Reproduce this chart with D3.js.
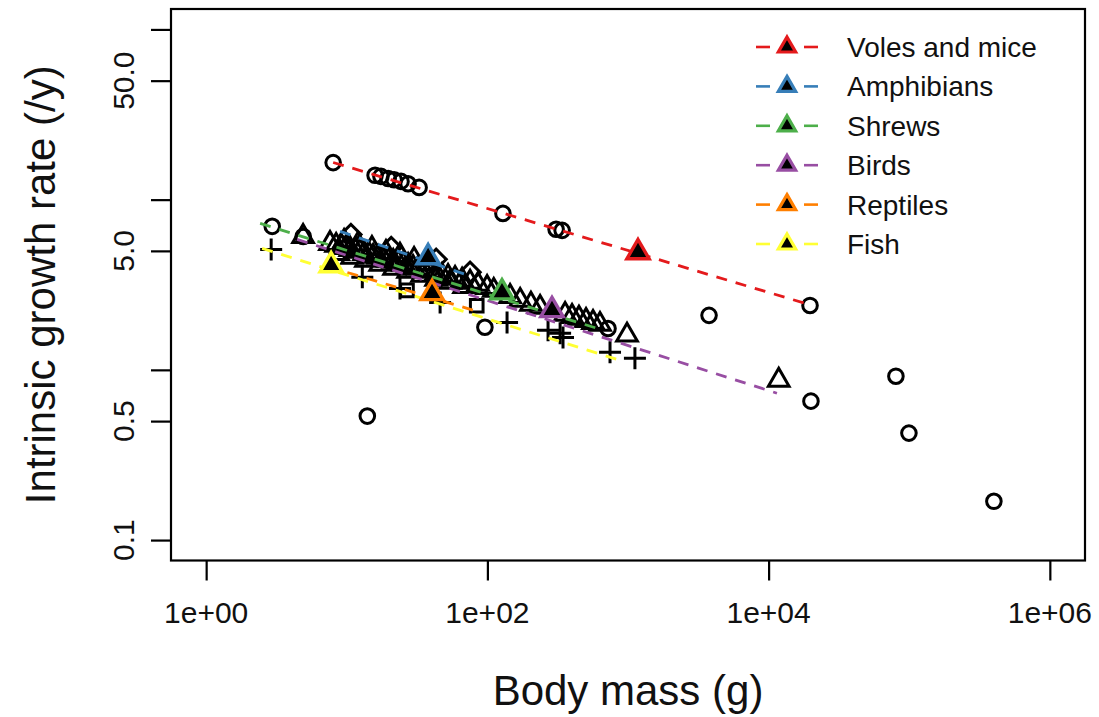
<!DOCTYPE html>
<html>
<head>
<meta charset="utf-8">
<script src="https://cdn.jsdelivr.net/npm/d3@7"></script>
<style>
  html, body { margin: 0; padding: 0; background: #fff; }
  svg { display: block; font-family: "Liberation Sans", Arial, Helvetica, sans-serif; }
</style>
</head>
<body>
<svg id="chart" width="1099" height="717"></svg>
<script>
// Open circles (body mass in g, intrinsic growth rate per year)
const circleMass = [8.0, 15.9, 17.5, 19.7, 21.7, 24.3, 27.3, 32.7, 129, 308, 340, 2.95, 4.9, 96, 14.0, 3770, 19700, 80400, 20000, 99500, 400000, 721];
const circleRate = [16.5, 13.9, 13.7, 13.3, 13.1, 12.8, 12.4, 11.8, 8.3, 6.7, 6.6, 6.97, 6.08, 1.78, 0.535, 2.09, 2.39, 0.918, 0.655, 0.425, 0.169, 1.75];

// Open triangles
const triangleMass = [
  7.6, 8.4, 9.1, 9.9, 10.6, 11.5, 12.4, 13.3, 14.4, 15.4, 16.7, 18.1, 19.7, 21.4, 23.2, 25.2, 27.3, 29.6, 32.2, 35.5, 39.1, 43.2, 47.6, 52.5, 58.9, 66.1, 75.3, 85.8, 99.5,
  8.68, 10.9, 13.7, 17.3, 21.7, 27.3, 34.3, 43.2, 54.3, 68.3,
  9.57, 12.0, 15.1, 19.0, 23.9, 30.1, 37.9,
  4.89, 171, 204, 237, 357, 400, 448, 503, 564, 632, 984, 11800, 111, 145
];
const triangleRate = [
  5.53, 5.39, 5.31, 5.24, 5.10, 5.03, 4.97, 4.83, 4.77, 4.64, 4.58, 4.52, 4.40, 4.34, 4.28, 4.17, 4.11, 4.00, 3.95, 3.84, 3.79, 3.69, 3.59, 3.54, 3.45, 3.36, 3.27, 3.18, 3.05,
  4.83, 4.58, 4.40, 4.17, 3.95, 3.79, 3.59, 3.40, 3.27, 3.09,
  5.68, 5.46, 5.17, 4.90, 4.71, 4.46, 4.22,
  6.08, 2.56, 2.43, 2.33, 2.12, 2.06, 2.01, 1.95, 1.90, 1.85, 1.60, 0.869, 2.93, 2.70
];

// Open diamonds
const diamondMass = [10.7, 20.7, 43.2, 75.3];
const diamondRate = [6.25, 5.24, 4.46, 3.74];

// Plus signs
const plusMass = [2.9, 12.9, 23.9, 46.1, 138, 270, 345, 329, 745, 1120];
const plusRate = [5.10, 3.50, 3.01, 2.49, 1.90, 1.71, 1.55, 1.64, 1.27, 1.17];

// Open squares
const squareMass = [26.8, 84];
const squareRate = [2.93, 2.38];

// Taxonomic groups: allometric fit r = a * M^b over the group's mass range,
// plus the group's central point
const groupNames = ["Voles and mice", "Amphibians", "Shrews", "Birds", "Reptiles", "Fish"];
const groupColors = ["#E41A1C", "#377EB8", "#4DAF4A", "#984EA3", "#FF7F00", "#FFFF33"];
const fitA = [27.6, 12.13, 9.10, 8.66, 6.62, 6.55];
const fitB = [-0.2465, -0.2838, -0.2572, -0.2648, -0.2477, -0.2583];
const fitMassMin = [8.0, 8.96, 2.42, 4.43, 10.1, 2.5];
const fitMassMax = [20300, 72.9, 602, 11460, 84.4, 877];
const centreMass = [1178, 37.9, 127, 288, 40.4, 7.74];
const centreRate = [4.9, 4.58, 2.85, 2.24, 2.82, 4.11];

// Axis ticks
const xTicks = [1, 1e2, 1e4, 1e6];
const xTickLabels = ["1e+00", "1e+02", "1e+04", "1e+06"];
const yTicks = [0.1, 0.5, 1, 5, 10, 50, 100];
const yTickLabels = ["0.1", "0.5", "", "5.0", "", "50.0", ""];

// ---- layout ----
const svg = d3.select("#chart");
const plot = { left: 171, right: 1085, top: 9, bottom: 560.5 };
const xPad = 0.25, yPad = 0.12; // decades of padding around the axis limits

const x = d3.scaleLog()
  .domain([Math.pow(10, 0 - xPad), Math.pow(10, 6 + xPad)])
  .range([plot.left, plot.right]);
const y = d3.scaleLog()
  .domain([Math.pow(10, -1 - yPad), Math.pow(10, 2 + yPad)])
  .range([plot.bottom, plot.top]);

svg.append("rect").attr("width", 1099).attr("height", 717).attr("fill", "#fff");

// axes
const xAxis = svg.append("g")
  .attr("transform", `translate(0,${plot.bottom})`)
  .call(d3.axisBottom(x).tickValues(xTicks).tickFormat("").tickSize(20).tickSizeOuter(0));
const yAxis = svg.append("g")
  .attr("transform", `translate(${plot.left},0)`)
  .call(d3.axisLeft(y).tickValues(yTicks).tickFormat("").tickSize(20).tickSizeOuter(0));
[xAxis, yAxis].forEach(g => {
  g.select(".domain").remove();
  g.selectAll(".tick line").attr("stroke", "#000").attr("stroke-width", 2.2);
});

svg.append("g").selectAll("text").data(xTicks).join("text")
  .attr("x", d => x(d)).attr("y", 623)
  .attr("text-anchor", "middle").attr("font-size", 30).attr("fill", "#111")
  .text((d, i) => xTickLabels[i]);

svg.append("g").selectAll("text").data(yTicks).join("text")
  .attr("transform", d => `translate(134,${y(d)}) rotate(-90)`)
  .attr("text-anchor", "middle").attr("font-size", 30).attr("fill", "#111")
  .text((d, i) => yTickLabels[i]);

// axis titles
svg.append("text")
  .attr("x", (plot.left + plot.right) / 2).attr("y", 705)
  .attr("text-anchor", "middle").attr("font-size", 42).attr("fill", "#111")
  .text("Body mass (g)");
svg.append("text")
  .attr("transform", `translate(55,${(plot.top + plot.bottom) / 2}) rotate(-90)`)
  .attr("text-anchor", "middle").attr("font-size", 42).attr("fill", "#111")
  .text("Intrinsic growth rate (/y)");

// ---- points ----
const pts = svg.append("g").attr("fill", "none").attr("stroke", "#000").attr("stroke-width", 3);
const circlePath = d3.symbol().type(d3.symbolCircle).size(Math.PI * 7.3 * 7.3)();
const trianglePath = d3.symbol().type(d3.symbolTriangle).size(185)();
const diamondPath = d3.symbol().type(d3.symbolSquare).size(205)();
const squarePath = d3.symbol().type(d3.symbolSquare).size(160)();
const plusPath = "M-11,0H11M0,-11V11";

function drawPoints(massArr, rateArr, path, rot) {
  pts.append("g").selectAll("path").data(massArr.map((m, i) => [m, rateArr[i]])).join("path")
    .attr("d", path)
    .attr("transform", d => `translate(${x(d[0])},${y(d[1])})` + (rot ? ` rotate(${rot})` : ""));
}
drawPoints(circleMass, circleRate, circlePath, 0);
drawPoints(triangleMass, triangleRate, trianglePath, 0);
drawPoints(diamondMass, diamondRate, diamondPath, 45);
drawPoints(squareMass, squareRate, squarePath, 0);
drawPoints(plusMass, plusRate, plusPath, 0);

// ---- fitted lines ----
const fitLine = d3.line().x(d => x(d[0])).y(d => y(d[1]));
const fits = svg.append("g").attr("fill", "none");
groupNames.forEach((g, i) => {
  const ends = [fitMassMin[i], fitMassMax[i]].map(m => [m, fitA[i] * Math.pow(m, fitB[i])]);
  fits.append("path")
    .attr("d", fitLine(ends))
    .attr("stroke", groupColors[i])
    .attr("stroke-width", 2.8)
    .attr("stroke-dasharray", "11,9");
});

// ---- group centre points ----
const bigTri = d3.symbol().type(d3.symbolTriangle).size(215)();
svg.append("g").selectAll("path").data(groupNames.map((g, i) => i)).join("path")
  .attr("d", bigTri)
  .attr("transform", i => `translate(${x(centreMass[i])},${y(centreRate[i])})`)
  .attr("fill", "#000")
  .attr("stroke", i => groupColors[i])
  .attr("stroke-width", 3.4);

// ---- legend ----
const legend = svg.append("g").attr("transform", "translate(756,47)");
const legTri = d3.symbol().type(d3.symbolTriangle).size(130)();
groupNames.forEach((g, i) => {
  const row = legend.append("g").attr("transform", `translate(0,${i * 39.4})`);
  row.append("line").attr("x1", 0).attr("x2", 14).attr("stroke", groupColors[i]).attr("stroke-width", 2.6);
  row.append("line").attr("x1", 48).attr("x2", 62).attr("stroke", groupColors[i]).attr("stroke-width", 2.6);
  row.append("path").attr("d", legTri).attr("transform", "translate(31,0)")
    .attr("fill", "#000").attr("stroke", groupColors[i]).attr("stroke-width", 3.2);
  row.append("text").attr("x", 91).attr("y", 10).attr("font-size", 28).attr("fill", "#111").text(g);
});

// plot frame
svg.append("rect")
  .attr("x", plot.left).attr("y", plot.top)
  .attr("width", plot.right - plot.left).attr("height", plot.bottom - plot.top)
  .attr("fill", "none").attr("stroke", "#000").attr("stroke-width", 2.2);
</script>
</body>
</html>
